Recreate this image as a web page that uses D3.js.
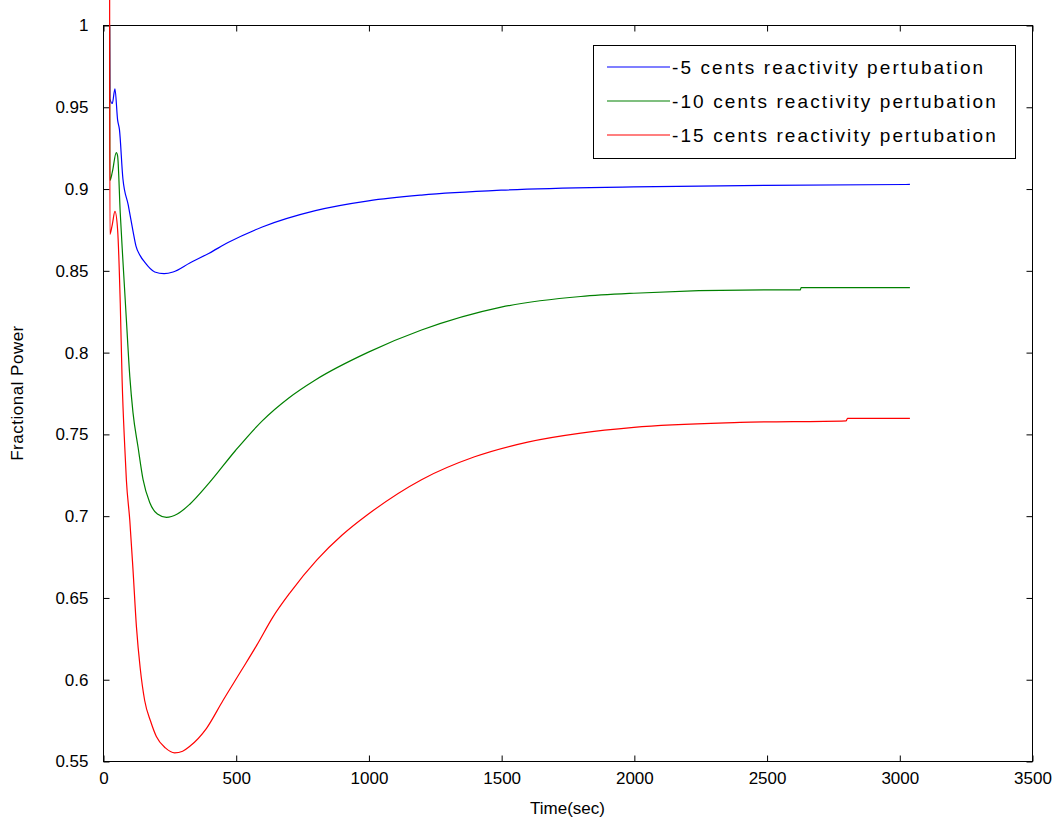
<!DOCTYPE html>
<html>
<head>
<meta charset="utf-8">
<script src="https://cdn.jsdelivr.net/npm/d3@7"></script>
<style>
  html, body { margin: 0; padding: 0; background: #fff; }
  svg { display: block; }
  text { font-family: "Liberation Sans", Arial, Helvetica, sans-serif; fill: #000; }
</style>
</head>
<body>
<svg id="chart" width="1061" height="829"></svg>
<script>
// ---- data ----
const seriesNames = [
  "-5 cents reactivity pertubation",
  "-10 cents reactivity pertubation",
  "-15 cents reactivity pertubation"
];
const seriesColors = ["#0000ff", "#008000", "#ff0000"];

const blueT = [25, 26, 35, 45, 55, 62, 75, 95, 113, 124, 140, 157, 195, 230, 264, 327, 400, 471, 600, 800, 1000, 1200, 1500, 2000, 2500, 3040];
const blueV = [1.0, 0.955, 0.952, 0.961, 0.942, 0.936, 0.906, 0.89, 0.874, 0.865, 0.859, 0.855, 0.849, 0.848, 0.849, 0.8545, 0.8605, 0.867, 0.8765, 0.8865, 0.8925, 0.896, 0.899, 0.901, 0.902, 0.9025];

const greenT = [25, 26, 35, 50, 55, 65, 75, 88, 101, 113, 132, 151, 176, 205, 239, 280, 327, 400, 500, 600, 700, 800, 1000, 1200, 1500, 1800, 2000, 2500, 2627, 2630, 3040];
const greenV = [1.0, 0.905, 0.91, 0.922, 0.92, 0.885, 0.856, 0.82, 0.785, 0.763, 0.742, 0.722, 0.708, 0.701, 0.699, 0.701, 0.707, 0.72, 0.74, 0.758, 0.772, 0.783, 0.80, 0.8135, 0.8275, 0.834, 0.836, 0.838, 0.838, 0.8394, 0.8394];

const redT = [25, 26, 35, 45, 55, 65, 72, 82, 88, 101, 113, 126, 140, 157, 180, 201, 235, 270, 300, 327, 390, 452, 520, 580, 640, 705, 806, 900, 1000, 1200, 1400, 1600, 1800, 2000, 2400, 2800, 2805, 3040];
const redV = [1.02, 0.872, 0.878, 0.886, 0.875, 0.83, 0.783, 0.742, 0.722, 0.697, 0.667, 0.632, 0.607, 0.587, 0.574, 0.565, 0.558, 0.555, 0.556, 0.559, 0.57, 0.587, 0.605, 0.621, 0.638, 0.653, 0.673, 0.688, 0.701, 0.722, 0.736, 0.745, 0.7505, 0.754, 0.757, 0.758, 0.7595, 0.7595];

const xTicks = [0, 500, 1000, 1500, 2000, 2500, 3000, 3500];
const yTicks = [0.55, 0.6, 0.65, 0.7, 0.75, 0.8, 0.85, 0.9, 0.95, 1];
const yTickLabels = ["0.55", "0.6", "0.65", "0.7", "0.75", "0.8", "0.85", "0.9", "0.95", "1"];
const xLabel = "Time(sec)";
const yLabel = "Fractional Power";

// ---- layout ----
const svg = d3.select("#chart");
const pL = 103, pR = 1032, pT = 25, pB = 761;

const x = d3.scaleLinear().domain([0, 3500]).range([pL, pR]);
const y = d3.scaleLinear().domain([0.55, 1]).range([pB, pT]);

const series = [
  blueT.map((t, i) => ({ t, v: blueV[i] })),
  greenT.map((t, i) => ({ t, v: greenV[i] })),
  redT.map((t, i) => ({ t, v: redV[i] }))
];

const fontSize = 17;
const tickLen = 6;

// axes box
svg.append("rect")
  .attr("x", pL + 0.5).attr("y", pT + 0.5)
  .attr("width", pR - pL).attr("height", pB - pT)
  .attr("fill", "#fff").attr("stroke", "#000").attr("stroke-width", 1);

// ticks inward on all four sides
const xAxisB = d3.axisBottom(x).tickValues(xTicks).tickSize(-tickLen).tickPadding(tickLen + 4).tickFormat(d3.format("d"));
const gxb = svg.append("g").attr("transform", `translate(0.5,${pB + 0.5})`).call(xAxisB);
const xAxisT = d3.axisTop(x).tickValues(xTicks).tickSize(-tickLen).tickFormat("");
const gxt = svg.append("g").attr("transform", `translate(0.5,${pT + 0.5})`).call(xAxisT);

const yAxisL = d3.axisLeft(y).tickValues(yTicks).tickSize(-tickLen).tickPadding(tickLen + 9)
  .tickFormat((d, i) => yTickLabels[i]);
const gyl = svg.append("g").attr("transform", `translate(${pL + 0.5},0.5)`).call(yAxisL);
const yAxisR = d3.axisRight(y).tickValues(yTicks).tickSize(-tickLen).tickFormat("");
const gyr = svg.append("g").attr("transform", `translate(${pR + 0.5},0.5)`).call(yAxisR);

[gxb, gxt, gyl, gyr].forEach(g => {
  g.select(".domain").remove();
  g.selectAll(".tick line").attr("stroke", "#000");
  g.selectAll("text").attr("font-size", fontSize).attr("font-family", "Liberation Sans, Arial, sans-serif").attr("fill", "#000");
});

// lines
const line = d3.line().x(d => x(d.t)).y(d => y(d.v)).curve(d3.curveMonotoneX);
series.forEach((s, i) => {
  svg.append("path")
    .datum(s)
    .attr("fill", "none")
    .attr("stroke", seriesColors[i])
    .attr("stroke-width", 1.2)
    .attr("stroke-linejoin", "round")
    .attr("d", line);
});

// axis labels
svg.append("text")
  .attr("x", (pL + pR) / 2).attr("y", 814)
  .attr("text-anchor", "middle").attr("font-size", fontSize)
  .text(xLabel);
svg.append("text")
  .attr("transform", `translate(23,${(pT + pB) / 2}) rotate(-90)`)
  .attr("text-anchor", "middle").attr("font-size", fontSize)
  .attr("letter-spacing", 0.5)
  .text(yLabel);

// legend
const lg = svg.append("g");
const lgX = 593, lgY = 45, lgW = 422, lgH = 113;
lg.append("rect").attr("x", lgX + 0.5).attr("y", lgY + 0.5).attr("width", lgW).attr("height", lgH)
  .attr("fill", "#fff").attr("stroke", "#000");
const rowY = [67, 101, 135];
seriesNames.forEach((name, i) => {
  lg.append("line")
    .attr("x1", lgX + 14).attr("x2", lgX + 77)
    .attr("y1", rowY[i]).attr("y2", rowY[i])
    .attr("stroke", seriesColors[i]).attr("stroke-width", 1.2);
  lg.append("text")
    .attr("x", lgX + 79).attr("y", rowY[i]).attr("dy", "0.35em")
    .attr("font-size", 19)
    .attr("letter-spacing", 2.1)
    .text(name);
});
</script>
</body>
</html>
